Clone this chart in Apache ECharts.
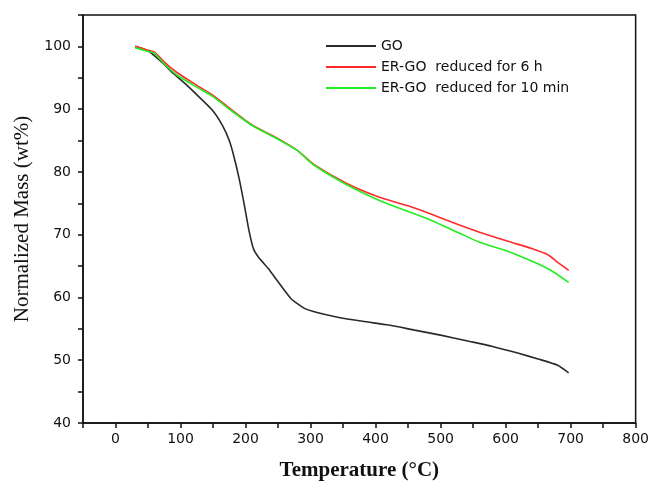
<!DOCTYPE html>
<html>
<head>
<meta charset="UTF-8" />
<title>TGA</title>
<script src="https://cdn.jsdelivr.net/npm/echarts@6/dist/echarts.min.js"></script>
<style>
  html, body { margin: 0; padding: 0; background: #fff; }
  #chart { width: 652px; height: 490px; }
</style>
</head>
<body>
<div id="chart"></div>
<script>
// GO
var goTemp = [30, 50, 70, 90, 110, 130, 150, 165, 175, 182, 190, 198, 205, 212, 220, 235, 250, 270, 290, 310, 340, 380, 420, 460, 500, 540, 580, 620, 650, 680, 697];
var goMass = [100, 99.3, 97.6, 95.6, 93.8, 91.8, 89.7, 87.3, 85, 82.5, 79, 74.8, 70.8, 67.8, 66.4, 64.6, 62.5, 59.8, 58.3, 57.6, 56.9, 56.2, 55.6, 54.8, 54.0, 53.1, 52.2, 51.1, 50.2, 49.2, 48.0];
// ER-GO 6 h
var er6hTemp = [30, 50, 60, 75, 95, 125, 150, 175, 210, 250, 280, 305, 355, 405, 450, 485, 530, 560, 605, 640, 665, 680, 697];
var er6hMass = [100, 99.4, 99.1, 97.5, 95.8, 93.8, 92.2, 90.2, 87.5, 85.3, 83.4, 81.2, 78.2, 76.0, 74.6, 73.3, 71.5, 70.4, 68.9, 67.8, 66.8, 65.6, 64.3];
// ER-GO 10 min
var er10Temp = [30, 50, 60, 75, 95, 125, 150, 175, 210, 250, 280, 305, 355, 405, 450, 485, 530, 560, 605, 640, 670, 697];
var er10Mass = [99.8, 99.2, 98.9, 97.2, 95.4, 93.5, 92.0, 90.0, 87.4, 85.2, 83.4, 81.1, 78.0, 75.5, 73.7, 72.3, 70.2, 68.8, 67.3, 65.8, 64.3, 62.4];

var names = ['GO', 'ER-GO  reduced for 6 h', 'ER-GO  reduced for 10 min'];

function pairs(xs, ys) {
  var out = [];
  for (var i = 0; i < xs.length; i++) out.push([xs[i], ys[i]]);
  return out;
}

var myChart = echarts.init(document.getElementById('chart'));
var option = {
  backgroundColor: '#ffffff',
  animation: false,
  color: ['#2a2a2a', '#ff2a2a', '#22ee22'],
  grid: {
    left: 83, right: 16, top: 15, bottom: 67,
    show: true, borderColor: '#111', borderWidth: 1.5
  },
  legend: {
    orient: 'vertical',
    left: 326, top: 38, padding: 0,
    itemWidth: 50, itemHeight: 2, itemGap: 5,
    icon: 'rect',
    textStyle: { fontFamily: 'DejaVu Sans', fontSize: 14, color: '#111', lineHeight: 16 },
    data: names
  },
  xAxis: {
    type: 'value',
    min: -50, max: 800, interval: 50,
    name: 'Temperature (°C)',
    nameLocation: 'middle', nameGap: 37,
    nameTextStyle: { fontFamily: 'Liberation Serif', fontWeight: 'bold', fontSize: 21, color: '#111' },
    axisLine: { onZero: false, lineStyle: { color: '#111', width: 1.5 } },
    axisTick: { length: 5, lineStyle: { color: '#111', width: 1.5 } },
    splitLine: { show: false },
    axisLabel: {
      margin: 9, fontFamily: 'DejaVu Sans', fontSize: 14, color: '#111',
      formatter: function (v) { return v % 100 === 0 ? String(v) : ''; }
    }
  },
  yAxis: {
    type: 'value',
    min: 40, max: 105, interval: 5,
    name: 'Normalized Mass (wt%)',
    nameLocation: 'middle', nameGap: 50,
    nameTextStyle: { fontFamily: 'Liberation Serif', fontSize: 21, color: '#111' },
    axisLine: { onZero: false, lineStyle: { color: '#111', width: 1.5 } },
    axisTick: { length: 5, lineStyle: { color: '#111', width: 1.5 } },
    splitLine: { show: false },
    axisLabel: {
      margin: 12, fontFamily: 'DejaVu Sans', fontSize: 14, color: '#111',
      formatter: function (v) { return v % 10 === 0 ? String(v) : ''; }
    }
  },
  series: [
    { name: names[0], type: 'line', showSymbol: false, smooth: 0.2, lineStyle: { width: 1.6 }, data: pairs(goTemp, goMass) },
    { name: names[1], type: 'line', showSymbol: false, smooth: 0.2, lineStyle: { width: 1.6 }, data: pairs(er6hTemp, er6hMass) },
    { name: names[2], type: 'line', showSymbol: false, smooth: 0.2, lineStyle: { width: 1.6 }, data: pairs(er10Temp, er10Mass) }
  ]
};
myChart.setOption(option);
</script>
</body>
</html>
